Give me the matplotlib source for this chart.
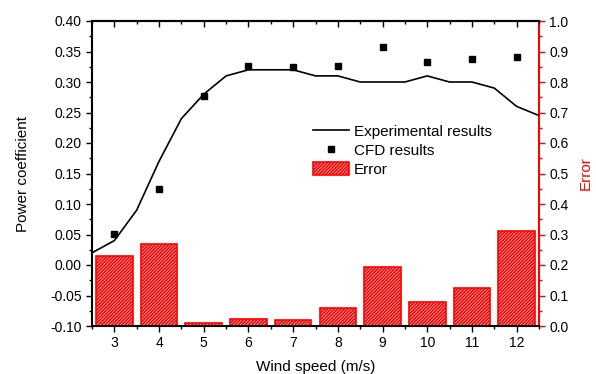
import numpy as np
import matplotlib.pyplot as plt
from matplotlib.ticker import MultipleLocator

plt.rcParams['font.family'] = ['Liberation Sans', 'DejaVu Sans']
plt.rcParams['hatch.color'] = 'red'
plt.rcParams['hatch.linewidth'] = 1.3

#---------------- data ----------------
exp_speed = [2.5, 3, 3.5, 4, 4.5, 5, 5.5, 6, 6.5, 7, 7.5, 8, 8.5, 9, 9.5,
             10, 10.5, 11, 11.5, 12, 12.5]
exp_cp = [0.02, 0.04, 0.09, 0.17, 0.24, 0.28, 0.31, 0.32, 0.32, 0.32, 0.31,
          0.31, 0.30, 0.30, 0.30, 0.31, 0.30, 0.30, 0.29, 0.26, 0.245]

cfd_speed = [3, 4, 5, 6, 7, 8, 9, 10, 11, 12]
cfd_cp = [0.051, 0.124, 0.277, 0.326, 0.325, 0.327, 0.357, 0.332, 0.337, 0.341]

error = [0.23, 0.269, 0.011, 0.024, 0.02, 0.06, 0.194, 0.079, 0.126, 0.312]

#---------------- figure ----------------
fig = plt.figure(figsize=(5.96, 3.74), dpi=100)
ax = fig.add_axes([92/596, 1-326/374, 447/596, 305/374])
ax2 = ax.twinx()

bars = ax2.bar(cfd_speed, error, width=0.82, facecolor='white',
               edgecolor='red', hatch='//////////', linewidth=1.2, label='Error')
ax2.set_ylim(0, 1.0)
ax2.yaxis.set_major_locator(MultipleLocator(0.1))
ax2.yaxis.set_minor_locator(MultipleLocator(0.05))
ax2.set_ylabel('Error', color='red', fontsize=11)
ax2.yaxis.set_label_coords(1.09, 0.5)
ax2.tick_params(axis='y', which='both', colors='red', labelsize=10,
                direction='out')
ax2.tick_params(axis='y', which='major', length=4, width=1)
ax2.tick_params(axis='y', which='minor', length=2.5, width=1)
ax2.spines['right'].set_color('red')
ax2.spines['right'].set_linewidth(1.5)
for s in ['top', 'bottom', 'left']:
    ax2.spines[s].set_visible(False)
ax2.tick_params(axis='y', labelcolor='black')

ax.set_zorder(ax2.get_zorder() + 1)
ax.patch.set_visible(False)

line, = ax.plot(exp_speed, exp_cp, color='black', lw=1.2,
                label='Experimental results')
pts, = ax.plot(cfd_speed, cfd_cp, 's', color='black', ms=5,
               label='CFD results')

ax.set_xlim(2.5, 12.5)
ax.set_ylim(-0.10, 0.40)
ax.set_xticks(cfd_speed)
ax.xaxis.set_minor_locator(MultipleLocator(0.5))
ax.yaxis.set_major_locator(MultipleLocator(0.05))
ax.yaxis.set_minor_locator(MultipleLocator(0.025))
ax.yaxis.set_major_formatter(plt.FormatStrFormatter('%.2f'))
ax.tick_params(which='both', labelsize=10, direction='out', width=1)
ax.tick_params(which='major', length=4)
ax.tick_params(which='minor', length=2.5)
ax.set_xlabel('Wind speed (m/s)', fontsize=11)
ax.set_ylabel('Power coefficient', fontsize=11)
ax.xaxis.set_label_coords(0.5, -0.11)
ax.yaxis.set_label_coords(-0.138, 0.5)
for s in ['top', 'bottom', 'left']:
    ax.spines[s].set_linewidth(1.5)
ax.spines['right'].set_visible(False)

# top ticks point inward
sec = ax.secondary_xaxis('top')
sec.set_xticks(cfd_speed)
sec.xaxis.set_minor_locator(MultipleLocator(0.5))
sec.tick_params(which='both', direction='in', labeltop=False, width=1)
sec.tick_params(which='major', length=4)
sec.tick_params(which='minor', length=2.5)
sec.spines['top'].set_linewidth(1.5)

ax.legend([line, pts, bars], ['Experimental results', 'CFD results', 'Error'],
          loc='upper left', bbox_to_anchor=(0.494, 0.662), frameon=False,
          fontsize=11, handlelength=2.4, handletextpad=0.3, borderpad=0,
          borderaxespad=0, labelspacing=0.3, handleheight=0.9)

fig.savefig('out.png', dpi=100)
